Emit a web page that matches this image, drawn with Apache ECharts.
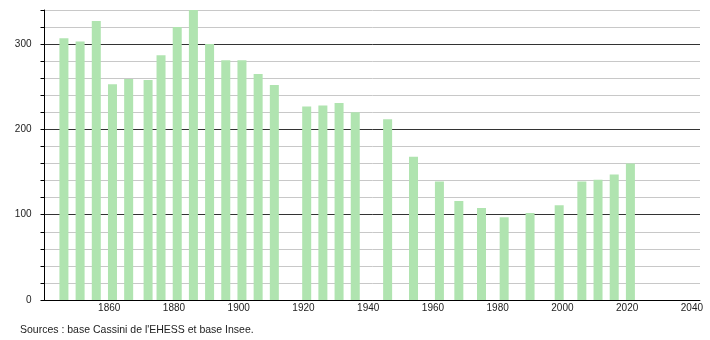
<!DOCTYPE html>
<html><head><meta charset="utf-8">
<script src="https://cdn.jsdelivr.net/npm/echarts@6/dist/echarts.min.js"></script>
<style>html,body{margin:0;padding:0;background:#fff}#c{width:710px;height:340px}</style>
</head><body><div id="c"></div>
<script>
const years = [1846,1851,1856,1861,1866,1872,1876,1881,1886,1891,1896,1901,1906,1911,1921,1926,1931,1936,1946,1954,1962,1968,1975,1982,1990,1999,2006,2011,2016,2021];
const population = [307,303,327,253,259,258,287,320,341,300,281,281,265,252,227,228,231,220,212,168,139,116,108,97,102,111,139,141,147,160];
const yTickLabels = [0,100,200,300];
const xTickLabels = [1860,1880,1900,1920,1940,1960,1980,2000,2020,2040];
const sourceText = "Sources : base Cassini de l'EHESS et base Insee.";

const chart = echarts.init(document.getElementById('c'));
chart.setOption({
  animation: false,
  backgroundColor: '#fff',
  grid: {left: 44.5, right: 10, top: 10, bottom: 40},
  xAxis: {
    type: 'value', min: 1840, max: 2042.5, interval: 20,
    axisLine: {show: true, lineStyle: {color: '#000', width: 1}},
    axisTick: {show: false},
    splitLine: {show: false},
    axisLabel: {
      color: '#222', fontSize: 10, fontFamily: 'Liberation Sans, Arial, sans-serif', margin: 3,
      formatter: v => xTickLabels.includes(v) ? String(v) : ''
    }
  },
  yAxis: {
    type: 'value', min: 0, max: 340, interval: 20,
    axisLine: {show: true, lineStyle: {color: '#000', width: 1}},
    axisTick: {show: true, length: 4, lineStyle: {color: '#000'}},
    splitLine: {show: true, lineStyle: {color: ['#333','#c8c8c8','#c8c8c8','#c8c8c8','#c8c8c8'], width: 1}},
    axisLabel: {
      color: '#222', fontSize: 10, fontFamily: 'Liberation Sans, Arial, sans-serif', margin: 13,
      formatter: v => yTickLabels.includes(v) ? String(v) : ''
    }
  },
  series: [{
    type: 'bar', barWidth: 9,
    itemStyle: {color: '#b0e4b0'},
    data: years.map((y, i) => [y, population[i]])
  }],
  graphic: [{
    type: 'text', left: 20, top: 325,
    style: {text: sourceText, fill: '#222', fontSize: 10.5, fontFamily: 'Liberation Sans, Arial, sans-serif'}
  }]
});
</script></body></html>
